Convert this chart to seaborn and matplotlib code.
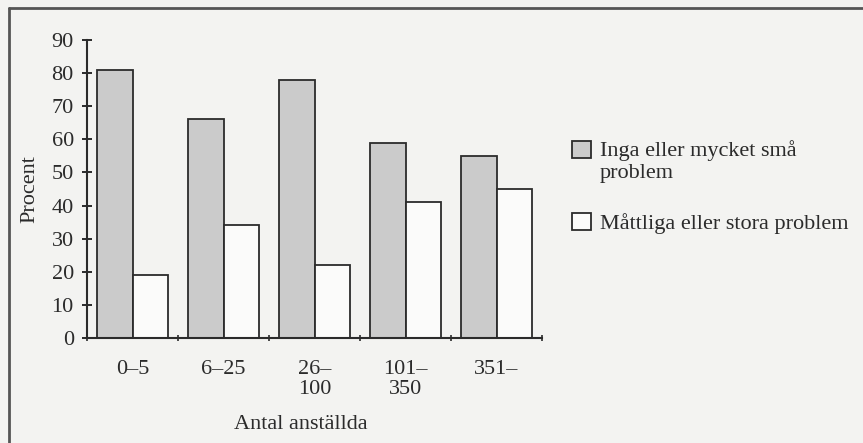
import numpy as np
import pandas as pd
import matplotlib
matplotlib.use("Agg")
import matplotlib.pyplot as plt
from matplotlib.patches import Rectangle
from matplotlib.legend_handler import HandlerPatch
import seaborn as sns

# Data: share of firms by size class (Antal anställda)
categories = ["0–5", "6–25", "26–\n100", "101–\n350", "351–"]
small_problems = [81, 66, 78, 59, 55]      # Inga eller mycket små problem
large_problems = [19, 34, 22, 41, 45]      # Måttliga eller stora problem
series_names = ["Inga eller mycket små\nproblem", "Måttliga eller stora problem"]
yticks = [0, 10, 20, 30, 40, 50, 60, 70, 80, 90]

df = pd.DataFrame({
    "Antal": categories * 2,
    "Procent": small_problems + large_problems,
    "Grupp": [series_names[0]] * len(categories) + [series_names[1]] * len(categories),
})

sns.set_theme(style="white")
plt.rcParams["font.family"] = ["Liberation Serif", "DejaVu Serif"]

FS = 16
TICK_LS = 1.05
LEG_LS = 1.2
bg = "#f3f3f1"
ink = "#2b2b2b"
gray_fill = "#cbcbcb"
white_fill = "#fbfbfa"

fig = plt.figure(figsize=(8.63, 4.43), dpi=100, facecolor=bg)
ax = fig.add_axes([87 / 863, 1 - 338 / 443, (542 - 87) / 863, (338 - 40) / 443])
ax.set_facecolor(bg)

sns.barplot(data=df, x="Antal", y="Procent", hue="Grupp",
            palette=[gray_fill, white_fill], width=0.77, gap=0,
            edgecolor=ink, linewidth=1.3, legend=False, ax=ax, saturation=1)

ax.set_xlim(-0.5, 4.5)
ax.set_ylim(0, 90)
ax.set_yticks(yticks)
ax.set_yticklabels([str(v) for v in yticks])

for s in ["top", "right"]:
    ax.spines[s].set_visible(False)
for s in ["left", "bottom"]:
    ax.spines[s].set_color(ink)
    ax.spines[s].set_linewidth(1.5)

ax.tick_params(axis="y", direction="inout", length=7, width=1.4, color=ink,
               labelsize=FS, labelcolor=ink, pad=6, left=True)
ax.tick_params(axis="x", which="major", length=0, labelsize=FS, labelcolor=ink, pad=16)
ax.set_xticks(np.arange(-0.5, 5.0, 1.0), minor=True)
ax.tick_params(axis="x", which="minor", direction="inout", length=5, width=1.2,
               color=ink, bottom=True)
for t in ax.get_xticklabels():
    t.set_linespacing(TICK_LS)

ax.set_xlabel("Antal anställda", fontsize=FS, color=ink)
ax.xaxis.set_label_coords(0.47, -0.26)
ax.set_ylabel("Procent", fontsize=FS, color=ink)
ax.yaxis.set_label_coords(-0.104, 0.5)


# Legend: the box sits beside the first line of each label
def top_aligned_box(legend, orig_handle, xdescent, ydescent, width, height, fontsize):
    n_lines = orig_handle.get_label().count("\n")
    shift = 0.5 * fontsize * n_lines
    return Rectangle((-xdescent, -ydescent + shift), width, height)


handles = []
for name, col in zip(series_names, [gray_fill, white_fill]):
    handles.append(Rectangle((0, 0), 1, 1, facecolor=col, edgecolor=ink,
                             linewidth=1.3, label=name))
leg = fig.legend(handles=handles, labels=series_names, loc="upper left",
                 bbox_to_anchor=(572 / 863, 1 - 140 / 443), frameon=False,
                 fontsize=FS, handlelength=0.85, handleheight=0.8, handletextpad=0.4,
                 labelspacing=1.35, borderpad=0, borderaxespad=0,
                 labelcolor=ink,
                 handler_map={Rectangle: HandlerPatch(patch_func=top_aligned_box)})
for t in leg.get_texts():
    t.set_linespacing(LEG_LS)

# Frame lines along the top and left edge of the panel
fig.add_artist(plt.Line2D([9 / 863, 1.0], [1 - 8 / 443, 1 - 8 / 443],
                          transform=fig.transFigure, color="#555555", linewidth=2))
fig.add_artist(plt.Line2D([9 / 863, 9 / 863], [0.0, 1 - 8 / 443],
                          transform=fig.transFigure, color="#555555", linewidth=2))

fig.savefig("out.png", dpi=100, facecolor=bg)
